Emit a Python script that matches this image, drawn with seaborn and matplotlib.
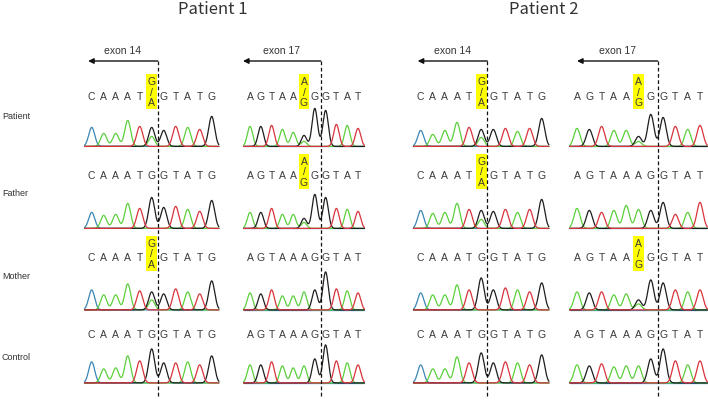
import numpy as np
import pandas as pd
import matplotlib
matplotlib.use("Agg")
import matplotlib.pyplot as plt
import seaborn as sns
from matplotlib.patches import Rectangle

sns.set_style("white")
plt.rcParams["font.family"] = ["Liberation Sans", "DejaVu Sans"]

# ---- data ----
rows = ["Patient", "Father", "Mother", "Control"]
titles = ["Patient 1", "Patient 2"]

seq_e14 = list("CAAATGGTATG")
seq_e17 = list("AGTAAAGGTAT")
het_e14 = "G\n/\nA"
het_e17 = "A\n/\nG"
alt_e14 = "A"   # second allele at the variant site
alt_e17 = "G"

# peak height under each called base (one list per family member)
p1_e14_peaks = [[19, 13, 13, 26, 20, 19, 16, 20, 19, 17, 30],
                [16, 13, 14, 25, 20, 31, 21, 22, 19, 17, 28],
                [20, 15, 15, 26, 19, 18, 16, 21, 18, 16, 29],
                [21, 14, 15, 27, 22, 34, 20, 20, 21, 18, 27]]
p1_e14_alt = [10, 0, 10, 0]
p1_e14_het = [True, False, True, False]

p1_e17_peaks = [[20, 20, 21, 17, 14, 5, 38, 36, 22, 21, 18],
                [16, 16, 20, 14, 14, 6, 34, 31, 20, 19, 17],
                [17, 16, 20, 14, 14, 18, 20, 38, 21, 19, 17],
                [18, 18, 21, 17, 15, 17, 24, 38, 22, 20, 18]]
p1_e17_alt = [11, 10, 0, 0]
p1_e17_het = [True, True, False, False]

p2_e14_peaks = [[16, 12, 16, 24, 19, 17, 17, 18, 15, 18, 28],
                [18, 15, 16, 25, 19, 18, 17, 19, 16, 19, 29],
                [17, 15, 15, 25, 20, 32, 20, 22, 20, 18, 27],
                [18, 14, 14, 26, 20, 30, 20, 21, 20, 18, 28]]
p2_e14_alt = [9, 9, 0, 0]
p2_e14_het = [True, True, False, False]

p2_e17_peaks = [[18, 17, 20, 16, 16, 5, 32, 29, 20, 17, 21],
                [20, 18, 16, 18, 23, 19, 18, 26, 14, 16, 26],
                [18, 17, 18, 15, 16, 6, 30, 27, 20, 18, 20],
                [18, 17, 19, 16, 17, 17, 24, 34, 22, 18, 22]]
p2_e17_alt = [10, 0, 10, 0]
p2_e17_het = [True, False, True, False]

panels = [
    dict(seq=seq_e14, peaks=p1_e14_peaks, alt=p1_e14_alt, het=p1_e14_het,
         het_lab=het_e14, alt_base=alt_e14, exon="exon 14"),
    dict(seq=seq_e17, peaks=p1_e17_peaks, alt=p1_e17_alt, het=p1_e17_het,
         het_lab=het_e17, alt_base=alt_e17, exon="exon 17"),
    dict(seq=seq_e14, peaks=p2_e14_peaks, alt=p2_e14_alt, het=p2_e14_het,
         het_lab=het_e14, alt_base=alt_e14, exon="exon 14"),
    dict(seq=seq_e17, peaks=p2_e17_peaks, alt=p2_e17_alt, het=p2_e17_het,
         het_lab=het_e17, alt_base=alt_e17, exon="exon 17"),
]

trace_colors = {"C": "#3a86b4", "A": "#5ccf3c", "G": "#1e1e1e", "T": "#d8343c"}

# ---- layout (pixels of the 708x414 canvas) ----
W, H = 708, 414
col_x0 = [91.7, 250.0, 420.7, 577.0]
col_step = [12.0, 10.8, 12.1, 12.3]
cut_pos = [5.5, 6.55, 5.5, 6.55]
arrow_left = [-0.3, -0.65, -0.25, 0.0]
row_base = [148.0, 230.0, 311.5, 384.5]
row_text = [96.7, 176.5, 258.3, 335.0]
row_label_y = [117, 193, 277, 357]
arrow_y, exon_y, dash_end = 62, 51, 398
sigma = 0.25
xs = np.linspace(-0.6, 10.6, 700)

fig = plt.figure(figsize=(W / 100, H / 100), dpi=100)

for c, p in enumerate(panels):
    x0, sp = col_x0[c], col_step[c]
    left = x0 - 0.8 * sp
    right = min(x0 + 10.8 * sp, W)
    ax = fig.add_axes([left / W, 0, (right - left) / W, 1])

    recs = []
    for r, name in enumerate(rows):
        heights = p["peaks"][r]
        for ch in "CAGT":
            y = np.full_like(xs, 0.6)
            for i, b in enumerate(p["seq"]):
                if b == ch:
                    y += heights[i] * np.exp(-0.5 * ((xs - i) / sigma) ** 2)
            if ch == p["alt_base"] and p["alt"][r] > 0:
                y += p["alt"][r] * np.exp(-0.5 * ((xs - 5) / sigma) ** 2)
            recs.append(pd.DataFrame({"x": xs, "signal": row_base[r] - y,
                                      "base": ch, "row": name}))
    df = pd.concat(recs, ignore_index=True)
    sns.lineplot(data=df, x="x", y="signal", hue="base", units="row",
                 estimator=None, sort=False, hue_order=["C", "A", "G", "T"],
                 palette=trace_colors, legend=False, linewidth=0.9, ax=ax)

    # base calls and yellow het boxes
    for r in range(len(rows)):
        for i, b in enumerate(p["seq"]):
            if p["het"][r] and i == 5:
                ax.add_patch(Rectangle((i - 0.46, row_text[r] - 21.7), 0.92, 35,
                                       facecolor="#ffff00", edgecolor="none", zorder=1))
                ax.text(i, row_text[r] - 4, p["het_lab"], ha="center", va="center",
                        fontsize=7.5, color="#3a3a3a", linespacing=1.05, zorder=3)
            else:
                ax.text(i, row_text[r], b, ha="center", va="center",
                        fontsize=7.5, color="#3a3a3a", zorder=3)

    # splice site marker + exon arrow
    cut = cut_pos[c]
    ax.plot([cut, cut], [arrow_y, dash_end], color="#111111", lw=0.9,
            ls=(0, (3, 2)), zorder=4)
    ax.annotate("", xy=(arrow_left[c], arrow_y), xytext=(cut, arrow_y),
                arrowprops=dict(arrowstyle="-|>", color="#111111", lw=1.0,
                                mutation_scale=8, shrinkA=0, shrinkB=0))
    ax.text((arrow_left[c] + cut) / 2, exon_y, p["exon"], ha="center",
            va="center", fontsize=7.5, color="#333333")

    ax.set_xlim((left - x0) / sp, (right - x0) / sp)
    ax.set_ylim(H, 0)
    ax.axis("off")

for t, xc in zip(titles, [213, 544]):
    fig.text(xc / W, 1 - 9 / H, t, ha="center", va="center", fontsize=12,
             color="#333333", family=["Noto Sans CJK JP", "DejaVu Sans"])

for name, yc in zip(rows, row_label_y):
    fig.text(2 / W, 1 - yc / H, name, ha="left", va="center", fontsize=6.5,
             color="#333333")

fig.savefig("out.png", dpi=100)
